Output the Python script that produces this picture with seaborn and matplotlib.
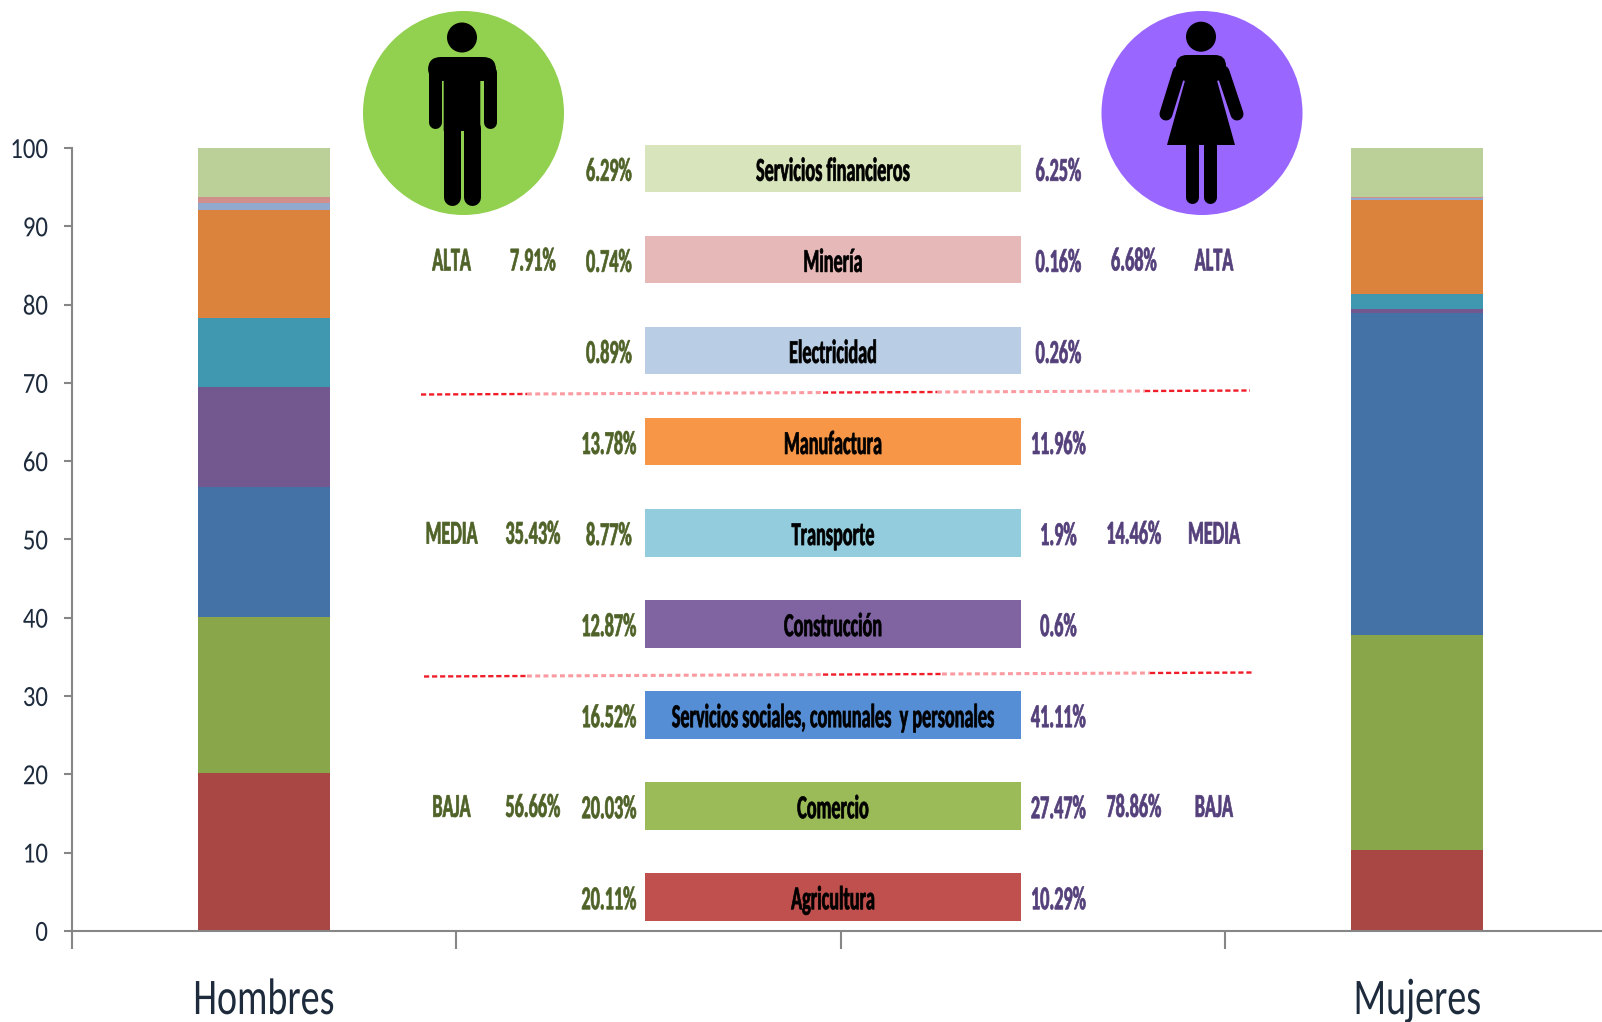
import matplotlib
matplotlib.use("Agg")
from matplotlib import pyplot as plt
from matplotlib.patches import Ellipse, Circle, FancyBboxPatch, Polygon
from matplotlib.patheffects import AbstractPathEffect
from matplotlib.text import Text
from matplotlib.transforms import Affine2D, Bbox
import pandas as pd
import seaborn as sns

sectors = ['Servicios financieros', 'Minería', 'Electricidad', 'Manufactura', 'Transporte',
           'Construcción', 'Servicios sociales, comunales  y personales', 'Comercio', 'Agricultura']
hombres = [6.29, 0.74, 0.89, 13.78, 8.77, 12.87, 16.52, 20.03, 20.11]
mujeres = [6.25, 0.16, 0.26, 11.96, 1.9, 0.6, 41.11, 27.47, 10.29]
hombres_labels = ['6.29%', '0.74%', '0.89%', '13.78%', '8.77%', '12.87%', '16.52%', '20.03%', '20.11%']
mujeres_labels = ['6.25%', '0.16%', '0.26%', '11.96%', '1.9%', '0.6%', '41.11%', '27.47%', '10.29%']
groups = ['ALTA', 'MEDIA', 'BAJA']
group_rows = [1, 4, 7]
hombres_groups = ['7.91%', '35.43%', '56.66%']
mujeres_groups = ['6.68%', '14.46%', '78.86%']
bar_colors = ['#bbcf98', '#d18f8c', '#91a8cf', '#db823c', '#4098b0', '#72588f', '#4472a6', '#8aa64b', '#a84744']
row_colors = ['#d8e4bc', '#e6b9b8', '#b9cde5', '#f79646', '#93cddd', '#8064a2', '#558ed5', '#9bbb59', '#c0504d']
categories = ['Hombres', ' ', '  ', 'Mujeres']
W, H = 1602, 1022
GREEN = '#4f6228'
PURPLE = '#54407a'
INK = '#1d2b3c'

sns.set_theme(style='white')
plt.rcParams['font.family'] = ['Carlito', 'DejaVu Sans']
fig = plt.figure(figsize=(W / 100, H / 100), dpi=100)


class Squeeze(AbstractPathEffect):
    # the original text is stretched tall and narrow, so scale glyphs in x about the text anchor
    def __init__(self, text, sx, stroke=0):
        super().__init__()
        self.text = text
        self.sx = sx
        self.stroke = stroke

    def draw_path(self, renderer, gc, tpath, affine, rgbFace=None):
        cx = self.text.get_transform().transform(self.text.get_position())[0]
        squeezed = affine + Affine2D().translate(-cx, 0).scale(self.sx, 1).translate(cx, 0)
        gc0 = renderer.new_gc()
        gc0.copy_properties(gc)
        if self.stroke:
            gc0.set_linewidth(self.stroke)
            gc0.set_foreground(rgbFace)
        renderer.draw_path(gc0, tpath, squeezed, rgbFace)
        gc0.restore()


class NarrowText(Text):
    sx = 0.545

    def get_window_extent(self, renderer=None, dpi=None):
        bb = super().get_window_extent(renderer, dpi)
        cx = bb.x0 + bb.width / 2
        half = bb.width * self.sx / 2
        return Bbox.from_extents(cx - half, bb.y0, cx + half, bb.y1)


def px_axes(left, top, right, bottom):
    return fig.add_axes([left / W, 1 - bottom / H, (right - left) / W, (bottom - top) / H])


# stacked bars: cumulative totals, tallest first
ax = px_axes(71.5, 148, 1602, 930.8)
df = pd.DataFrame({'sector': sectors, 'Hombres': hombres, 'Mujeres': mujeres})
n = len(sectors)
for i in range(n):
    sub = df.iloc[i:]
    sns.barplot(x=['Hombres', 'Mujeres'], y=[sub['Hombres'].sum(), sub['Mujeres'].sum()],
                order=categories, color=bar_colors[i], saturation=1, width=0.343,
                linewidth=0, ax=ax)
ax.set_xlim(-0.5, 3.48)
ax.set_ylim(0, 100)
ax.set_ylabel('')
ax.set_yticks(range(0, 101, 10))
ax.set_xticks([-0.5, 0.5, 1.5, 2.5])
ax.set_xticklabels([])
ax.set_xticks([0, 3], ['Hombres', 'Mujeres'], minor=True)
ax.tick_params(axis='x', which='major', length=13, width=1.5, color='#868686', bottom=True)
ax.tick_params(axis='x', which='minor', length=0, pad=34, labelsize=37, labelcolor=INK)
ax.tick_params(axis='y', length=6, width=1.5, color='#868686', left=True, pad=11, labelsize=21, labelcolor=INK)
for t in ax.get_xticklabels(minor=True):
    t.set_path_effects([Squeeze(t, 0.74)])
for t in ax.get_yticklabels():
    t.set_path_effects([Squeeze(t, 0.85)])
sns.despine(ax=ax)
for s in ['left', 'bottom']:
    ax.spines[s].set_color('#868686')
    ax.spines[s].set_linewidth(1.5)

# central key, one row per sector
center0, step = 168.6, 91.06
key = px_axes(645, center0 - step / 2, 1021, center0 + step * 8.5)
sns.barplot(x=[1] * n, y=sectors, hue=sectors, palette=row_colors, saturation=1, width=0.52,
            orient='y', legend=False, linewidth=0, ax=key)
key.set_xlim(0, 1)
key.set_ylim(n - 0.5, -0.5)
key.axis('off')
key.patch.set_alpha(0)


def kx(px):
    return (px - 645) / 376


def label(x, y, s, color):
    t = NarrowText(x, y, s, ha='center', va='center', fontsize=24, fontweight='bold', color=color)
    key.add_artist(t)
    t.set_clip_on(False)
    t.set_path_effects([Squeeze(t, NarrowText.sx, stroke=0.5)])


for i in range(n):
    dy = 0.035
    label(0.5, i + dy, sectors[i], 'black')
    label(kx(609), i + dy, hombres_labels[i], GREEN)
    label(kx(1058.5), i + dy, mujeres_labels[i], PURPLE)
for g, r, hg, mg in zip(groups, group_rows, hombres_groups, mujeres_groups):
    label(kx(451.6), r + 0.02, g, GREEN)
    label(kx(533), r + 0.02, hg, GREEN)
    label(kx(1134), r + 0.02, mg, PURPLE)
    label(kx(1214), r + 0.02, g, PURPLE)

# overlay in pixel coordinates for the icons and separators
top = px_axes(0, 0, W, H)
top.set_xlim(0, W)
top.set_ylim(H, 0)
top.axis('off')
top.patch.set_alpha(0)


def separator(x0, y0, x1, y1, breaks):
    # the line fades to pink over some stretches
    xs = [x0] + breaks + [x1]
    for j in range(len(xs) - 1):
        ya = y0 + (y1 - y0) * (xs[j] - x0) / (x1 - x0)
        yb = y0 + (y1 - y0) * (xs[j + 1] - x0) / (x1 - x0)
        if j % 2 == 0:
            top.plot([xs[j], xs[j + 1]], [ya, yb], color='#f01c28', lw=1.7, ls=(0, (2.2, 1.2)))
        else:
            top.plot([xs[j], xs[j + 1]], [ya, yb], color='#fb9aa0', lw=2.2, ls=(0, (1.6, 1.1)))


separator(421, 394.5, 1250, 390.5, [527, 823, 937, 1145])
separator(424, 676.5, 1254, 672.5, [527, 823, 942, 1150])


def limb(x0, y0, x1, y1, width):
    top.plot([x0, x1], [y0, y1], color='black', lw=width * 0.72, solid_capstyle='round')


# man
top.add_patch(Ellipse((463.5, 113), 201, 204, color='#92d050', lw=0))
top.add_patch(Circle((462, 37.5), 15, color='black', lw=0))
top.add_patch(FancyBboxPatch((428, 57), 68, 24, boxstyle='round,pad=0,rounding_size=13', color='black', lw=0))
top.add_patch(FancyBboxPatch((443.7, 70), 36.6, 61, boxstyle='round,pad=0,rounding_size=0', color='black', lw=0))
limb(434.5, 72, 434.5, 122, 13)
limb(489.5, 72, 489.5, 122, 13)
limb(452.2, 128, 452.2, 197, 17)
limb(471.8, 128, 471.8, 197, 17)

# woman
top.add_patch(Ellipse((1202, 113), 201, 204, color='#9966ff', lw=0))
top.add_patch(Circle((1201, 36.7), 15, color='black', lw=0))
top.add_patch(FancyBboxPatch((1176, 55), 50, 26, boxstyle='round,pad=0,rounding_size=11', color='black', lw=0))
top.add_patch(Polygon([(1186, 77), (1216, 77), (1235, 145), (1167, 145)], color='black', lw=0))
limb(1179, 72, 1166, 114, 13)
limb(1223, 72, 1237, 114, 13)
limb(1192, 145, 1192, 197, 13)
limb(1210, 145, 1210, 197, 13)

plt.savefig('out.png', dpi=100)
plt.close()
